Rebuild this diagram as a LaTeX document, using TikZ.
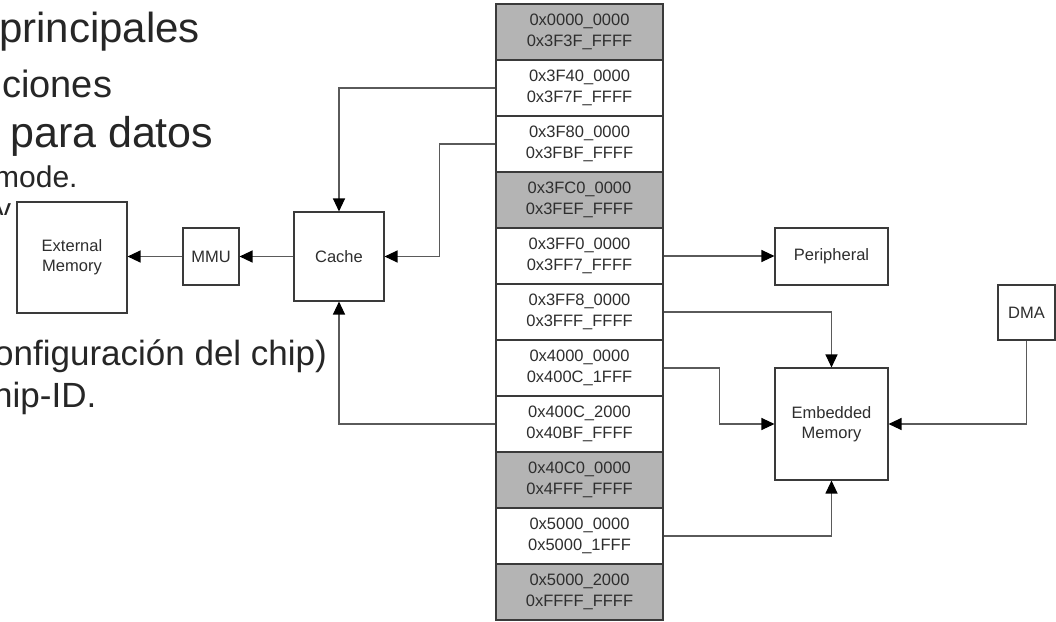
\documentclass[tikz,border=0pt]{standalone}
\usepackage{fontspec}
\setmainfont{Liberation Sans}
\usetikzlibrary{arrows.meta}
\definecolor{bgtext}{HTML}{262626}
\definecolor{dtext}{HTML}{2E2E2E}
\definecolor{edge}{HTML}{3A3A3A}
\definecolor{wire}{HTML}{5A5A5A}
\definecolor{cellgray}{HTML}{B4B4B4}
\begin{document}
\begin{tikzpicture}[x=1pt,y=-1pt,
  slidetext/.style={inner sep=0pt,text=bgtext,font=\fontsize{#1pt}{#1pt}\selectfont},
  blk/.style={draw=edge,line width=1.1pt,fill=white,inner sep=0pt,text=dtext,
     font=\fontsize{16.5pt}{20pt}\selectfont,align=center},
  cell/.style={draw=edge,line width=1.1pt,inner sep=0pt,text=dtext,
     minimum width=167pt,minimum height=56pt,
     font=\fontsize{16.5pt}{21pt}\selectfont,align=center},
  wcell/.style={cell,fill=white},
  gcell/.style={cell,fill=cellgray},
  conn/.style={draw=wire,line width=1.2pt,
     -{Triangle[length=13pt,width=12pt,fill=black,color=black]}}
]
\useasboundingbox (0,0) rectangle (1056,621);

% background slide text fragments
\begin{scope}
\clip (0,0) rectangle (1056,621);
\node[slidetext=42,anchor=base west] (t1) at (-1,42) {principales};
\node[slidetext=38,anchor=base west] (t2) at (2,97) {ciones};
\node[slidetext=43,anchor=base west] (t3) at (10,147) {para datos};
\node[slidetext=30,anchor=base west] (t4) at (-6,187) {mode.};
\node[slidetext=35,anchor=base west] (t6) at (-6,365) {onfiguración del chip)};
\node[slidetext=35,anchor=base west] (t7) at (-7,407) {hip-ID.};
\end{scope}
\begin{scope}
\clip (0,190) rectangle (20,214);
\node[slidetext=30,anchor=base west] (t5) at (-4,219) {y};
\end{scope}

% memory map
\foreach \i/\a/\b/\s in {
  0/0x0000\_0000/0x3F3F\_FFFF/gcell,
  1/0x3F40\_0000/0x3F7F\_FFFF/wcell,
  2/0x3F80\_0000/0x3FBF\_FFFF/wcell,
  3/0x3FC0\_0000/0x3FEF\_FFFF/gcell,
  4/0x3FF0\_0000/0x3FF7\_FFFF/wcell,
  5/0x3FF8\_0000/0x3FFF\_FFFF/wcell,
  6/0x4000\_0000/0x400C\_1FFF/wcell,
  7/0x400C\_2000/0x40BF\_FFFF/wcell,
  8/0x40C0\_0000/0x4FFF\_FFFF/gcell,
  9/0x5000\_0000/0x5000\_1FFF/wcell,
  10/0x5000\_2000/0xFFFF\_FFFF/gcell}
{
  \node[\s] (c\i) at (579.5,{32+56*\i}) {\a\\\b};
}

% blocks
\node[blk,minimum width=110pt,minimum height=111pt] (ext) at (72,257.5) {External\\Memory};
\node[blk,minimum width=56pt,minimum height=57pt] (mmu) at (211,256.5) {MMU};
\node[blk,minimum width=90pt,minimum height=89pt] (cache) at (339,256.5) {Cache};
\node[blk,minimum width=113pt,minimum height=57pt] (per) at (831.5,256.5) {Peripheral};
\node[blk,minimum width=57pt,minimum height=55pt] (dma) at (1026.5,312.5) {DMA};
\node[blk,minimum width=113pt,minimum height=112pt] (emb) at (831.5,424) {Embedded\\Memory};

% connectors
\draw[conn] (c1.west) -| (cache.north);
\draw[conn] (c2.west) -- ++(-56,0) |- (cache.east);
\draw[conn] (cache.west) -- (mmu.east);
\draw[conn] (mmu.west) -- (ext.east |- mmu.west);
\draw[conn] (c7.west) -| (cache.south);
\draw[conn] (c4.east) -- (c4.east -| per.west);
\draw[conn] (c5.east) -| (emb.north);
\draw[conn] (c6.east) -- ++(56,0) |- (emb.west);
\draw[conn] (c9.east) -| (emb.south);
\draw[conn] (dma.south) |- (emb.east);
\end{tikzpicture}
\end{document}
